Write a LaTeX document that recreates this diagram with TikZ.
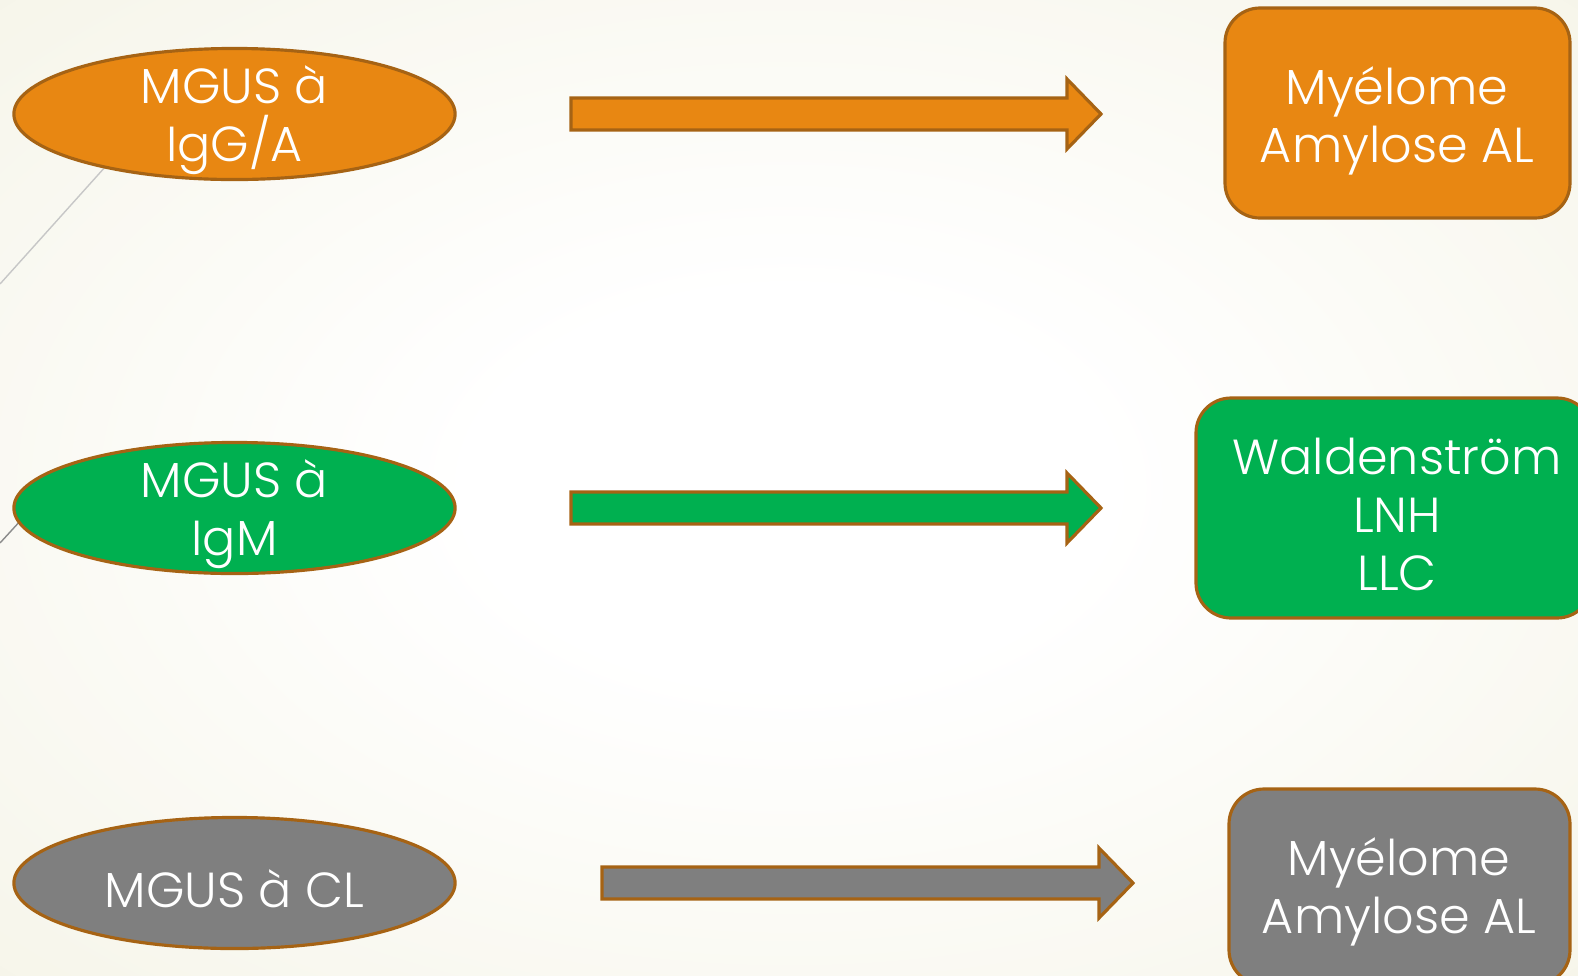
\documentclass[tikz,border=0pt]{standalone}
\usepackage{fontspec}
\setmainfont{Poppins Light}
\usetikzlibrary{shapes.geometric}
\definecolor{corange}{RGB}{232,135,18}
\definecolor{cgreen}{RGB}{0,176,80}
\definecolor{cgray}{RGB}{127,127,127}
\definecolor{cbrown}{RGB}{166,99,20}
\definecolor{cbeige}{RGB}{238,236,214}
\pgfdeclareradialshading{slidebg}{\pgfpoint{0bp}{0bp}}{color(0bp)=(white); color(10bp)=(white); color(50bp)=(cbeige!80!white); color(72bp)=(cbeige)}
\tikzset{mgus/.style={x=0.01cm,y=-0.01cm,font=\fontsize{14}{16.5}\selectfont},
  oval/.style={ellipse,draw=cbrown,line width=0.9pt,minimum width=4.41cm,minimum height=1.31cm,inner sep=0pt},
  outcome/.style={draw=cbrown,line width=0.9pt,rounded corners=0.35cm},
  txt/.style={text=white,align=center,yshift=-0.06cm}}

\begin{document}
\begin{tikzpicture}[mgus]
    \useasboundingbox (0,0) rectangle (1578,975);
    \clip (0,0) rectangle (1578,975);
    \shade[shading=slidebg] (0,0) rectangle (1578,975);
    \draw[black!22,line width=0.4pt] (106,166) -- (0,284);
    \draw[black!45,line width=0.4pt] (22,519) -- (0,543);
    % left side
    \node[oval,fill=corange] (igga) at (234.5,114) {};
    \node[txt] at (igga) {MGUS à\\IgG/A};
    \node[oval,fill=cgreen] (igm) at (234.5,508) {};
    \node[txt] at (igm) {MGUS à\\IgM};
    \node[oval,fill=cgray] (cl) at (234.5,883) {};
    \node[txt] at (cl) {MGUS à CL};
    % arrows
    \foreach \y/\a/\b/\c in {114/571/1101/corange,508/571/1101/cgreen,883/602/1133/cgray}
      \filldraw[fill=\c,draw=cbrown,line width=0.9pt] (\a,\y-16) -- (\b-34,\y-16) -- (\b-34,\y-35)
        -- (\b,\y) -- (\b-34,\y+35) -- (\b-34,\y+16) -- (\a,\y+16) -- cycle;
    % right side
    \filldraw[outcome,fill=corange] (1225,8) rectangle (1570,218);
    \node[txt] (mye1) at (1397,115) {Myélome\\Amylose AL};
    \filldraw[outcome,fill=cgreen] (1196,398) rectangle (1592,618);
    \node[txt] (wald) at (1397,508) {Waldenström\\LNH\\LLC};
    \filldraw[outcome,fill=cgray] (1229,789) rectangle (1570,985);
    \node[txt] (mye2) at (1399,886) {Myélome\\Amylose AL};
  \end{tikzpicture}
\end{document}
